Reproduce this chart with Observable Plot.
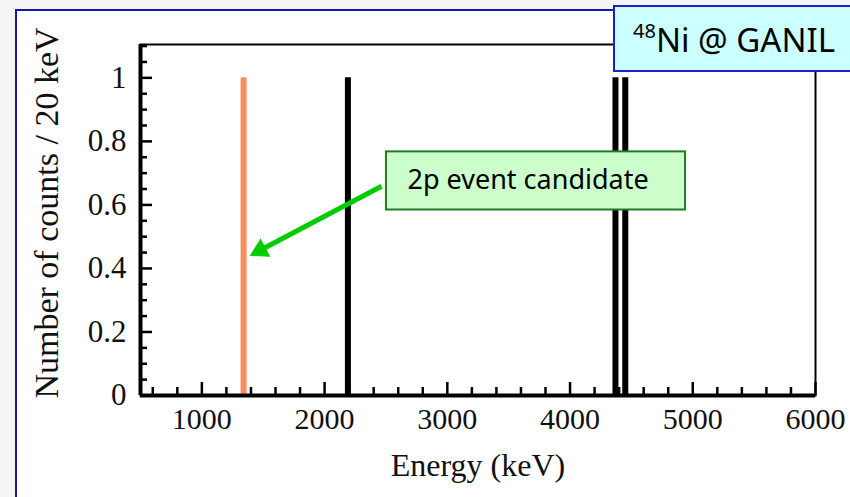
<!DOCTYPE html>
<html><head><meta charset="utf-8">
<script src="https://cdn.jsdelivr.net/npm/d3@7"></script>
<script src="https://cdn.jsdelivr.net/npm/@observablehq/plot@0.6"></script>
<style>
html,body{margin:0;padding:0;background:#f5f5f5;width:850px;height:497px;overflow:hidden;}
#panel{position:absolute;left:15px;top:9px;width:900px;height:600px;background:#fff;border:2px solid #1616b0;}
#chart{position:absolute;left:0;top:0;}
#tag{position:absolute;left:613px;top:5px;width:300px;height:67px;background:#ccffff;border:2px solid #1c1cd0;
 font-family:"Noto Sans",sans-serif;font-size:33px;line-height:33px;padding-top:16px;padding-left:18px;box-sizing:border-box;color:#000;white-space:nowrap;}
#tag .sup{font-size:20px;position:relative;top:-14px;}
</style></head>
<body>
<div id="panel"></div>
<div id="chart"></div>
<div id="tag"><span class="sup">48</span>Ni @ GANIL</div>
<script>
// data
const energies = [1340, 2190, 4370, 4450];   // keV
const counts   = [1, 1, 1, 1];
const kinds    = ["candidate", "other", "other", "other"];
// tick labels
const xTickLabels = [1000, 2000, 3000, 4000, 5000, 6000];
const yTickLabels = [0, 0.2, 0.4, 0.6, 0.8, 1];
const xLabel = "Energy (keV)";
const yLabel = "Number of counts / 20 keV";
const noteText = "2p event candidate";

const bars = energies.map((e, i) => ({energy: e, count: counts[i], kind: kinds[i]}));
const xMinor = d3.range(600, 6000, 200).filter(v => v % 1000 !== 0);
const yMinor = d3.range(0, 1.101, 0.05).map(v => +v.toFixed(2)).filter(v => !yTickLabels.includes(v));

const W = 850, H = 497, mL = 140, mR = 35, mT = 44, mB = 102;
const innerW = W - mL - mR, innerH = H - mT - mB;
const serif = "Liberation Serif, Times New Roman, serif";

const chart = Plot.plot({
  width: W, height: H,
  marginLeft: mL, marginRight: mR, marginTop: mT, marginBottom: mB,
  style: {background: "transparent", overflow: "visible"},
  x: {domain: [500, 6000]},
  y: {domain: [0, 1.105]},
  marks: [
    Plot.ruleX(bars, {x: "energy", y1: 0, y2: "count",
      stroke: d => d.kind === "candidate" ? "#f4905e" : "#000", strokeWidth: 6}),
    Plot.frame({stroke: "#000", strokeWidth: 2}),
    Plot.ruleX([500], {stroke: "#000", strokeWidth: 4}),
    Plot.ruleY([0], {stroke: "#000", strokeWidth: 4}),
    Plot.tickX(xMinor, {x: d => d, insetTop: innerH - 8, stroke: "#000", strokeWidth: 2.5}),
    Plot.tickX(xTickLabels, {x: d => d, insetTop: innerH - 13, stroke: "#000", strokeWidth: 2.5}),
    Plot.tickY(yMinor, {y: d => d, insetRight: innerW - 7, stroke: "#000", strokeWidth: 2.5}),
    Plot.tickY(yTickLabels, {y: d => d, insetRight: innerW - 12, stroke: "#000", strokeWidth: 2.5}),
    Plot.axisX({ticks: xTickLabels, tickSize: 0, tickPadding: 12, tickFormat: d => String(d),
      fontSize: 30, fontFamily: serif, fill: "#111", label: null}),
    Plot.axisY({ticks: yTickLabels, tickSize: 0, tickPadding: 14, tickFormat: d => String(d),
      fontSize: 31, fontFamily: serif, fill: "#111", label: null}),
    Plot.text([xLabel], {frameAnchor: "bottom", dy: 70, fontSize: 32, fontFamily: serif, fill: "#111", lineAnchor: "middle"}),
    Plot.text([yLabel], {frameAnchor: "left", textAnchor: "middle", rotate: -90, dx: -93, dy: -7,
      fontSize: 34, fontFamily: serif, fill: "#111", lineAnchor: "middle"}),
    // annotation box
    Plot.rect([noteText], {x1: 2504, x2: 4941, y1: 0.584, y2: 0.767, fill: "#ccffcc", stroke: "#237a23", strokeWidth: 2}),
    Plot.text([noteText], {x: 2675, y: 0.678, textAnchor: "start", lineAnchor: "middle",
      fontSize: 27, fontFamily: "Noto Sans, sans-serif", fill: "#000"}),
    // arrow: shaft + filled head
    Plot.link([noteText], {x1: 2464, y1: 0.659, x2: 1475, y2: 0.457,
      stroke: "#00cc00", strokeWidth: 5}),
    Plot.dot([noteText], {x: 1475, y: 0.457, symbol: "triangle", r: 7, rotate: 242,
      fill: "#00cc00", stroke: "#00cc00", strokeWidth: 1})
  ]
});
document.getElementById("chart").append(chart);
</script>
</body></html>
